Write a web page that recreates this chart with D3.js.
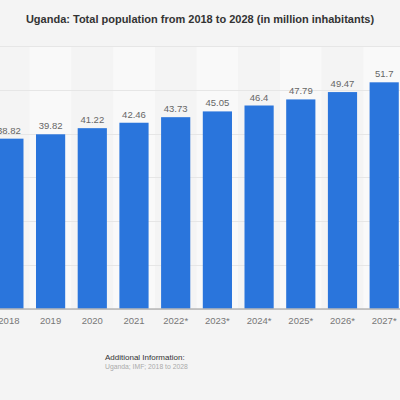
<!DOCTYPE html>
<html>
<head>
<meta charset="utf-8">
<script src="https://cdn.jsdelivr.net/npm/d3@7"></script>
<style>
  html, body { margin: 0; padding: 0; background: #f4f4f4; }
  svg { display: block; }
  text { font-family: "Liberation Sans", Arial, Helvetica, sans-serif; }
</style>
</head>
<body>
<div id="chart"></div>
<script>
const years = ["2018", "2019", "2020", "2021", "2022*", "2023*", "2024*", "2025*", "2026*", "2027*"];
const population = [38.82, 39.82, 41.22, 42.46, 43.73, 45.05, 46.4, 47.79, 49.47, 51.7];
const yTicks = [0, 10, 20, 30, 40, 50, 60];
const title = "Uganda: Total population from 2018 to 2028 (in million inhabitants)";
const infoTitle = "Additional Information:";
const infoText = "Uganda; IMF; 2018 to 2028";

const W = 400, H = 400;
const svg = d3.select("#chart").append("svg").attr("width", W).attr("height", H);

svg.append("rect").attr("width", W).attr("height", H).attr("fill", "#f4f4f4");

const step = 41.7;
const r0 = -11.96;
const x = d3.scaleBand().domain(years).range([r0, r0 + step * years.length])
  .paddingInner(0.3).paddingOuter(0.15);
const y = d3.scaleLinear().domain([0, 60]).range([308.5, 46]);

// alternating background bands
svg.append("g").selectAll("rect").data(years).join("rect")
  .attr("x", d => x(d) - x.step() * 0.15)
  .attr("y", y(60))
  .attr("width", x.step())
  .attr("height", y(0) - y(60))
  .attr("fill", (d, i) => i % 2 === 1 ? "#f9f9f9" : "#f4f4f4");

// gridlines
svg.append("g").selectAll("line").data(yTicks).join("line")
  .attr("x1", 0).attr("x2", W)
  .attr("y1", d => Math.round(y(d)) + 0.5).attr("y2", d => Math.round(y(d)) + 0.5)
  .attr("stroke", "#e6e6e6").attr("stroke-width", 1);

// bars
svg.append("g").selectAll("rect").data(population).join("rect")
  .attr("x", (d, i) => x(years[i]))
  .attr("y", d => y(d))
  .attr("width", x.bandwidth())
  .attr("height", d => y(0) - y(d))
  .attr("fill", "#2a75dc");

// value labels
svg.append("g").selectAll("text").data(population).join("text")
  .attr("x", (d, i) => x(years[i]) + x.bandwidth() / 2)
  .attr("y", d => y(d) - 5)
  .attr("text-anchor", "middle")
  .attr("font-size", 9.5)
  .attr("fill", "#666")
  .text(d => d);

// x axis
const xAxis = svg.append("g").attr("transform", `translate(0,${y(0)})`)
  .call(d3.axisBottom(x).tickSize(0).tickPadding(9));
xAxis.select(".domain").attr("stroke", "#999").attr("d", `M0,0.5H${W}`);
xAxis.selectAll("text").attr("font-size", 9.5).attr("fill", "#777")
  .attr("font-family", "Liberation Sans, Arial, sans-serif");

// title
svg.append("text").attr("x", 200).attr("y", 23).attr("text-anchor", "middle")
  .attr("font-size", 11).attr("font-weight", "bold").attr("fill", "#333")
  .text(title);

// additional info
svg.append("text").attr("x", 105).attr("y", 360)
  .attr("font-size", 8).attr("fill", "#333").text(infoTitle);
svg.append("text").attr("x", 105).attr("y", 369)
  .attr("font-size", 6.8).attr("fill", "#aaa").text(infoText);
</script>
</body>
</html>
